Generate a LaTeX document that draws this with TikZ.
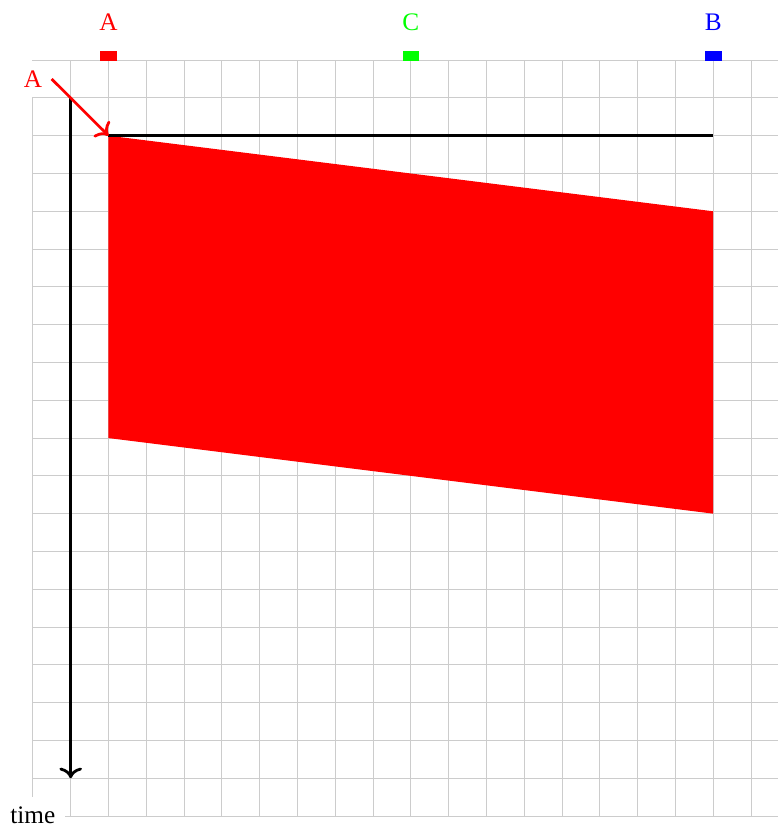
\documentclass[tikz,border=0pt]{standalone}
\usepackage{fontspec}
\setmainfont{Liberation Serif}
\usetikzlibrary{arrows.meta}
\begin{document}
\begin{tikzpicture}[x=1cm,y=1cm,>={To[length=8pt,width=17pt]},
 every node/.style={font=\fontsize{19}{22}\selectfont},
 lab/.style={fill=white,inner sep=.25cm},
 flagbox/.style={minimum width=.44cm,minimum height=.28cm,inner sep=0pt}]
 \useasboundingbox (-.87,-20.29) rectangle (19.71,1.59);
 \clip (-.87,-20.29) rectangle (19.71,1.59);
 \draw[gray!40,line width=.6pt] (0,-20) grid (19.71,0);
 % stations on top
 \foreach \x/\n/\c in {2/A/red,10/C/green,18/B/blue}{
   \node[flagbox,fill=\c] (flag\n) at (\x,.11) {};
   \node[text=\c] (top\n) at (\x,1) {\n};
 }
 % signal region
 \fill[red] (2,-2) -- (18,-4) -- (18,-12) -- (2,-10) -- cycle;
 \coordinate (emit) at (2,-2);
 \coordinate (far) at (18,-2);
 \draw[line width=2.1pt] (emit) -- (far);
 % time axis
 \coordinate (t0) at (1,-1);
 \coordinate (t1) at (1,-19);
 \draw[->,line width=2.1pt] (t0) -- (t1);
 \node[lab] (time) at (0,-19.97) {time};
 \node[lab,text=red] (startA) at (0,-.5) {A};
 \draw[->,red,line width=2.1pt] (startA.east) -- (emit);
\end{tikzpicture}
\end{document}
